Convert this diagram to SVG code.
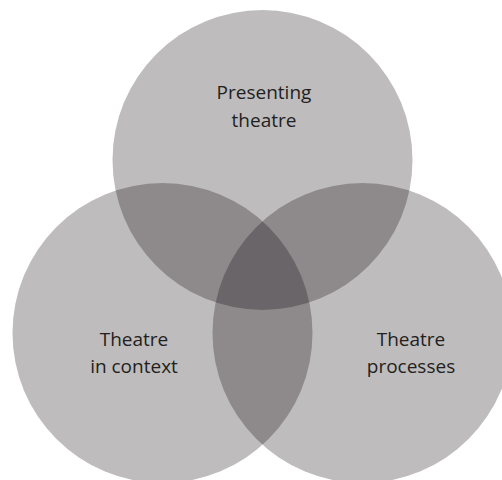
<svg xmlns="http://www.w3.org/2000/svg" width="502" height="480" viewBox="0 0 502 480">
<style>
.c{fill:#060104;fill-opacity:0.262}
.t{font-family:"Open Sans","Noto Sans",sans-serif;font-size:19px;fill:#231f20;text-anchor:middle}
</style>
<rect width="502" height="480" fill="#ffffff"/>
<g id="presenting">
<circle class="c" cx="262.5" cy="160" r="150"/>
<text class="t" x="264" y="99">Presenting</text>
<text class="t" x="264" y="127">theatre</text>
</g>
<g id="context">
<circle class="c" cx="162.5" cy="333" r="150"/>
<text class="t" x="134" y="346">Theatre</text>
<text class="t" x="134" y="373">in context</text>
</g>
<g id="processes">
<circle class="c" cx="362.5" cy="333" r="150"/>
<text class="t" x="411" y="346">Theatre</text>
<text class="t" x="411" y="373">processes</text>
</g>
<g id="connectors"></g>
</svg>
